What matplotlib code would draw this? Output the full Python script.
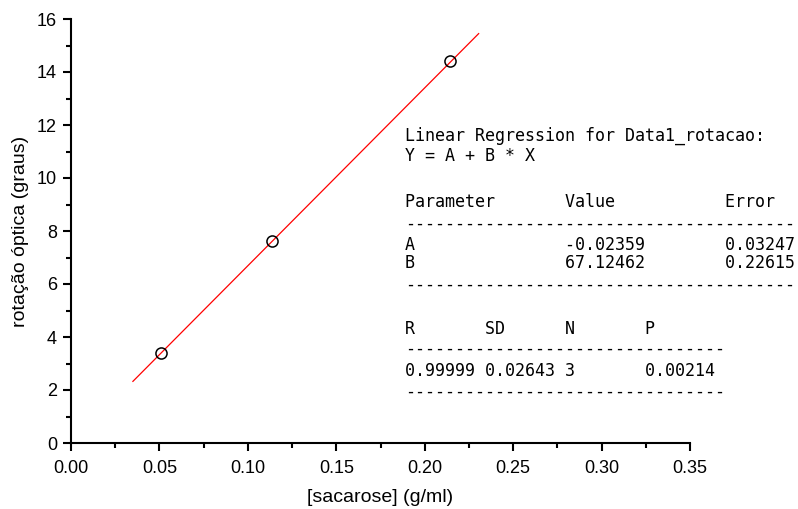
import numpy as np
import matplotlib
matplotlib.use("Agg")
import matplotlib.pyplot as plt
from matplotlib.ticker import MultipleLocator

# measured points
sacarose = [0.0511, 0.1134, 0.2143]
rotacao = [3.41, 7.64, 14.41]

# fit parameters (from the report)
A = -0.02359
B = 67.12462
fit_x = [0.035, 0.2305]

report_lines = [
    ("Linear Regression for Data1_rotacao:", 136),
    ("Y = A + B * X", 156),
    ("Parameter       Value           Error", 202),
    ("-" * 39, 224),
    ("A               -0.02359        0.03247", 245),
    ("B               67.12462        0.22615", 263),
    ("-" * 39, 285),
    ("R       SD      N       P", 329),
    ("-" * 32, 349),
    ("0.99999 0.02643 3       0.00214", 371),
    ("-" * 32, 392),
]

plt.rcParams['font.family'] = ['Liberation Sans', 'DejaVu Sans']

W, H = 798, 509
fig = plt.figure(figsize=(W / 100, H / 100), dpi=100)
ax = fig.add_axes([71 / W, 1 - 443 / H, (690 - 71) / W, (443 - 19) / H])

fx = np.array(fit_x)
ax.plot(fx, A + B * fx, color="red", lw=0.9)
ax.plot(sacarose, rotacao, "o", mfc="none", mec="black", ms=8, mew=1.1)

ax.set_xlim(0, 0.35)
ax.set_ylim(0, 16)
ax.xaxis.set_major_locator(MultipleLocator(0.05))
ax.xaxis.set_minor_locator(MultipleLocator(0.025))
ax.yaxis.set_major_locator(MultipleLocator(2))
ax.yaxis.set_minor_locator(MultipleLocator(1))
ax.xaxis.set_major_formatter(matplotlib.ticker.FormatStrFormatter("%.2f"))

for s in ["top", "right"]:
    ax.spines[s].set_visible(False)
for s in ["left", "bottom"]:
    ax.spines[s].set_linewidth(1.5)
ax.tick_params(which="major", direction="out", length=6, width=1.5, labelsize=13)
ax.tick_params(which="minor", direction="out", length=3.5, width=1.5)
ax.tick_params(axis="x", which="major", pad=6)
ax.tick_params(axis="y", which="major", pad=4)

ax.set_xlabel("[sacarose] (g/ml)", fontsize=14, labelpad=9)
ax.set_ylabel("rotação óptica (graus)", fontsize=14, labelpad=6)

for txt, ypix in report_lines:
    fig.text(405 / W, 1 - ypix / H, txt, family="DejaVu Sans Mono",
             fontsize=12, va="center", ha="left", color="black")

fig.savefig("out.png", dpi=100)
